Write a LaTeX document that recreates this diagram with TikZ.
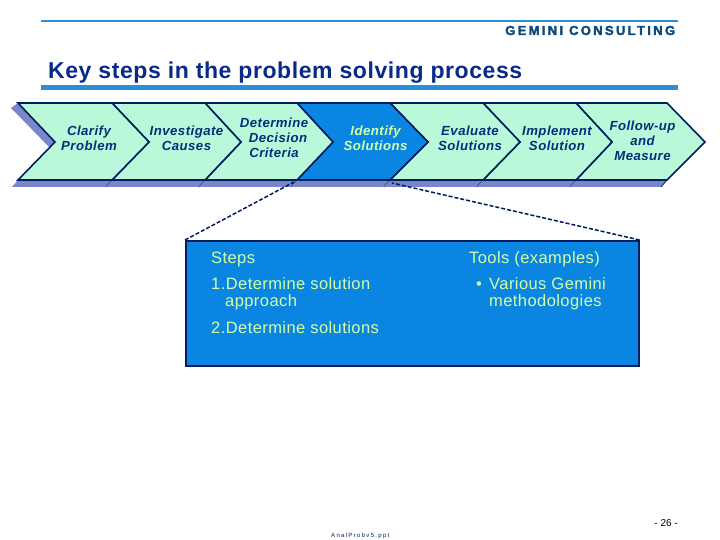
\documentclass[tikz,border=0pt]{standalone}
\usepackage{fontspec}
\setmainfont{Liberation Sans}
\definecolor{mint}{HTML}{B9F9DA}
\definecolor{midblue}{HTML}{0B85E2}
\definecolor{navy}{HTML}{001F60}
\definecolor{barfill}{HTML}{7A86C9}
\definecolor{rulec}{HTML}{2A8FD6}
\definecolor{logoc}{HTML}{0C4A80}
\definecolor{palegreen}{HTML}{D2FFA6}
\definecolor{titlec}{HTML}{0A2A88}
\definecolor{labc}{HTML}{003078}
\tikzset{
  chev/.style={draw=navy,line width=1.6pt,fill=mint,line join=miter},
  chevsel/.style={chev,fill=midblue},
  lab/.style={text=labc,font=\fontsize{13.2}{15}\selectfont\bfseries\itshape\addfontfeature{LetterSpace=3.5},align=center,inner sep=0pt},
  boxlab/.style={text=palegreen,font=\fontsize{16.5}{18}\selectfont\addfontfeature{LetterSpace=2.6},align=left,inner sep=0pt,anchor=base west},
  zoomline/.style={draw=navy,line width=1.5pt,dash pattern=on 4pt off 2pt},
}
\begin{document}
\begin{tikzpicture}[x=1pt,y=-1pt]
\useasboundingbox (0,0) rectangle (720,540);
\fill[white] (0,0) rectangle (720,540);
% top rules
\draw[rulec,line width=2pt] (41,20.7) -- (678,20.7);
\draw[rulec,line width=5pt] (41,87.5) -- (678,87.5);
\node[anchor=west,inner sep=0pt,text=logoc,font=\fontsize{13}{13}\selectfont\bfseries] (logo) at (505,30.5) {\addfontfeature{LetterSpace=18,FakeBold=2.5}GEMINI CONSULTING};
\node[anchor=base west,inner sep=0pt,text=titlec,font=\fontsize{23}{25}\selectfont\bfseries] (title) at (48,78.5) {\addfontfeature{LetterSpace=2.5}Key steps in the problem solving process};
% bars under the chevrons
\foreach \a/\b in {18/112,112/205,205/297,297/390,390/483,483/576,576/667}{
  \fill[barfill] (\a,180) -- (\b,180) -- (\b-6,187) -- (\a-6,187) -- cycle;
  \draw[navy,line width=.8pt] (\b,180) -- (\b-6,187);
}
\fill[barfill] (18,103) -- (56,142) -- (50,148) -- (11,108) -- cycle;
% chevrons
\draw[chev] (576,103) -- (667,103) -- (705,142) -- (667,180) -- (576,180) -- (612,142) -- cycle;
\draw[chev] (483,103) -- (576,103) -- (612,142) -- (576,180) -- (483,180) -- (520,142) -- cycle;
\draw[chev] (390,103) -- (483,103) -- (520,142) -- (483,180) -- (390,180) -- (428,142) -- cycle;
\draw[chevsel] (297,103) -- (390,103) -- (428,142) -- (390,180) -- (297,180) -- (333,142) -- cycle;
\draw[chev] (205,103) -- (297,103) -- (333,142) -- (297,180) -- (205,180) -- (241,142) -- cycle;
\draw[chev] (112,103) -- (205,103) -- (241,142) -- (205,180) -- (112,180) -- (149,142) -- cycle;
\draw[chev] (18,103) -- (112,103) -- (149,142) -- (112,180) -- (18,180) -- (55,142) -- cycle;
% chevron labels
\node[lab] (c1) at (89,138) {Clarify\\Problem};
\node[lab] (c2) at (186.5,138) {Investigate\\Causes};
\node[lab] (c3) at (274,138) {Determine\\\hspace*{8pt}Decision\\Criteria};
\node[lab,text=palegreen] (c4) at (375.5,138) {Identify\\Solutions};
\node[lab] (c5) at (470,138) {Evaluate\\Solutions};
\node[lab] (c6) at (557,138) {Implement\\Solution};
\node[lab] (c7) at (642.5,141) {Follow-up\\and\\Measure};
% detail box
\node[draw=navy,line width=1.6pt,fill=midblue,minimum width=453pt,minimum height=125pt,inner sep=0pt,anchor=north west] (detail) at (185,240) {};
\coordinate (zl) at (294,182);
\coordinate (zr) at (392,183);
\draw[zoomline] (detail.north west) -- (zl);
\draw[zoomline] (detail.north east) -- (zr);
\node[boxlab] (t1) at (211,263) {Steps};
\node[boxlab] (t2) at (211,289) {1.Determine solution};
\node[boxlab] (t3) at (225,306.5) {approach};
\node[boxlab] (t4) at (211,333) {2.Determine solutions};
\node[boxlab] (t5) at (469,263) {Tools (examples)};
\node[boxlab] (t6) at (476,289) {•};
\node[boxlab] (t7) at (489,289) {Various Gemini};
\node[boxlab] (t8) at (489,306.5) {methodologies};
% footer
\node[anchor=base east,inner sep=0pt,text=black,font=\fontsize{10}{10}\selectfont] (page) at (678,526) {- 26 -};
\node[anchor=base west,inner sep=0pt,text=navy,font=\fontsize{6}{6}\selectfont] (file) at (331,537) {\addfontfeature{LetterSpace=22}AnalProbv5.ppt};
\end{tikzpicture}
\end{document}
